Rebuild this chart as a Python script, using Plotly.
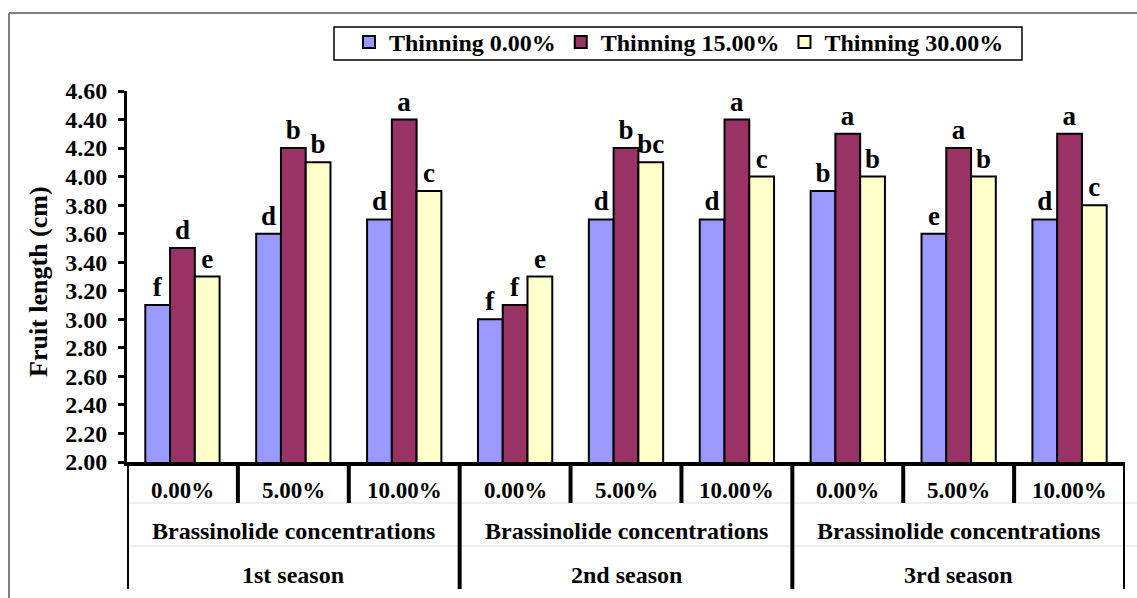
import plotly.graph_objects as go

categories = ["0.00%", "5.00%", "10.00%"] * 3
seasons = ["1st season", "2nd season", "3rd season"]
group_label = "Brassinolide concentrations"

series_names = ["Thinning 0.00%", "Thinning 15.00%", "Thinning 30.00%"]
thin_0 = [3.1, 3.6, 3.7, 3.0, 3.7, 3.7, 3.9, 3.6, 3.7]
thin_15 = [3.5, 4.2, 4.4, 3.1, 4.2, 4.4, 4.3, 4.2, 4.3]
thin_30 = [3.3, 4.1, 3.9, 3.3, 4.1, 4.0, 4.0, 4.0, 3.8]
letters_0 = ["f", "d", "d", "f", "d", "d", "b", "e", "d"]
letters_15 = ["d", "b", "a", "f", "b", "a", "a", "a", "a"]
letters_30 = ["e", "b", "c", "e", "bc", "c", "b", "b", "c"]
y_ticks = [2.0, 2.2, 2.4, 2.6, 2.8, 3.0, 3.2, 3.4, 3.6, 3.8, 4.0, 4.2, 4.4, 4.6]

colors = ["#9999FF", "#993366", "#FFFFCC"]
FONT = "'Liberation Serif', 'Times New Roman', Times, serif"

W_PX, H_PX = 1137, 598
L, R, T, B = 127, 12, 91, 136
PW = W_PX - L - R
PH = H_PX - T - B


def PX(p):
    return (p - L) / PW


def PY(p):
    return (H_PX - B - p) / PH


xs = list(range(len(categories)))
fig = go.Figure()
for name, vals, lets, col in zip(series_names, [thin_0, thin_15, thin_30],
                                 [letters_0, letters_15, letters_30], colors):
    fig.add_trace(go.Bar(
        x=xs, y=vals, name=name, text=lets, textposition="outside",
        constraintext="none",
        textfont=dict(family=FONT, size=27, color="black", weight="bold"),
        marker=dict(color=col, line=dict(color="black", width=2)),
    ))

shapes = []
# outer gray frame (top & left)
shapes.append(dict(type="line", xref="paper", yref="paper", x0=PX(9), x1=PX(1137),
                   y0=PY(13), y1=PY(13), line=dict(color="#808080", width=2)))
shapes.append(dict(type="line", xref="paper", yref="paper", x0=PX(9), x1=PX(9),
                   y0=PY(13), y1=PY(600), line=dict(color="#808080", width=2)))
# legend box
shapes.append(dict(type="rect", xref="paper", yref="paper", x0=PX(334), x1=PX(1022),
                   y0=PY(27), y1=PY(60), line=dict(color="black", width=1.5),
                   fillcolor="white", layer="below"))
# faint row lines
for yy in [503, 546]:
    shapes.append(dict(type="line", xref="paper", yref="paper", x0=PX(127), x1=PX(1137),
                       y0=PY(yy), y1=PY(yy), line=dict(color="#dcdcdc", width=1)))
# separators
n = len(categories)
for b in range(n + 1):
    xb = b - 0.5
    major = (b % 3 == 0)
    shapes.append(dict(type="line", xref="x", yref="paper", x0=xb, x1=xb,
                       y0=PY(462), y1=PY(589 if major else 503),
                       line=dict(color="black", width=4)))

annotations = []
for i, c in enumerate(categories):
    annotations.append(dict(x=i, y=PY(490), xref="x", yref="paper", text=c,
                            showarrow=False, yanchor="middle",
                            font=dict(family=FONT, size=23, color="black", weight="bold")))
for s, name in enumerate(seasons):
    annotations.append(dict(x=3 * s + 1, y=PY(531), xref="x", yref="paper", text=group_label,
                            showarrow=False, yanchor="middle",
                            font=dict(family=FONT, size=24, color="black", weight="bold")))
    annotations.append(dict(x=3 * s + 1, y=PY(575), xref="x", yref="paper", text=name,
                            showarrow=False, yanchor="middle",
                            font=dict(family=FONT, size=24, color="black", weight="bold")))
annotations.append(dict(x=PX(38), y=PY(282), xref="paper", yref="paper",
                        text="Fruit length (cm)", textangle=-90, showarrow=False,
                        xanchor="center", yanchor="middle",
                        font=dict(family=FONT, size=26, color="black", weight="bold")))

fig.update_layout(
    width=W_PX, height=H_PX,
    margin=dict(l=L, r=R, t=T, b=B, autoexpand=False),
    paper_bgcolor="white", plot_bgcolor="white",
    barmode="group", bargap=0.33, bargroupgap=0,
    showlegend=True,
    legend=dict(orientation="h", x=PX(349), y=PY(20), xanchor="left", yanchor="top",
                borderwidth=0, bgcolor="rgba(0,0,0,0)",
                font=dict(family=FONT, size=24, color="black", weight="bold"),
                itemclick=False),
    xaxis=dict(range=[-0.5, n - 0.5], showticklabels=False, ticks="", showgrid=False,
               zeroline=False, showline=True, linecolor="black", linewidth=4,
               fixedrange=True),
    yaxis=dict(range=[2.0, 4.6], tickvals=y_ticks, tickformat=".2f", showgrid=False,
               zeroline=False, showline=True, linecolor="black", linewidth=3,
               ticks="outside", ticklen=6, tickwidth=3, tickcolor="black",
               ticklabelstandoff=6,
               tickfont=dict(family=FONT, size=24, color="black", weight="bold")),
    shapes=shapes, annotations=annotations,
)

fig.write_html("out.html", config={"displayModeBar": False},
               post_script="document.body.style.margin='0';")
